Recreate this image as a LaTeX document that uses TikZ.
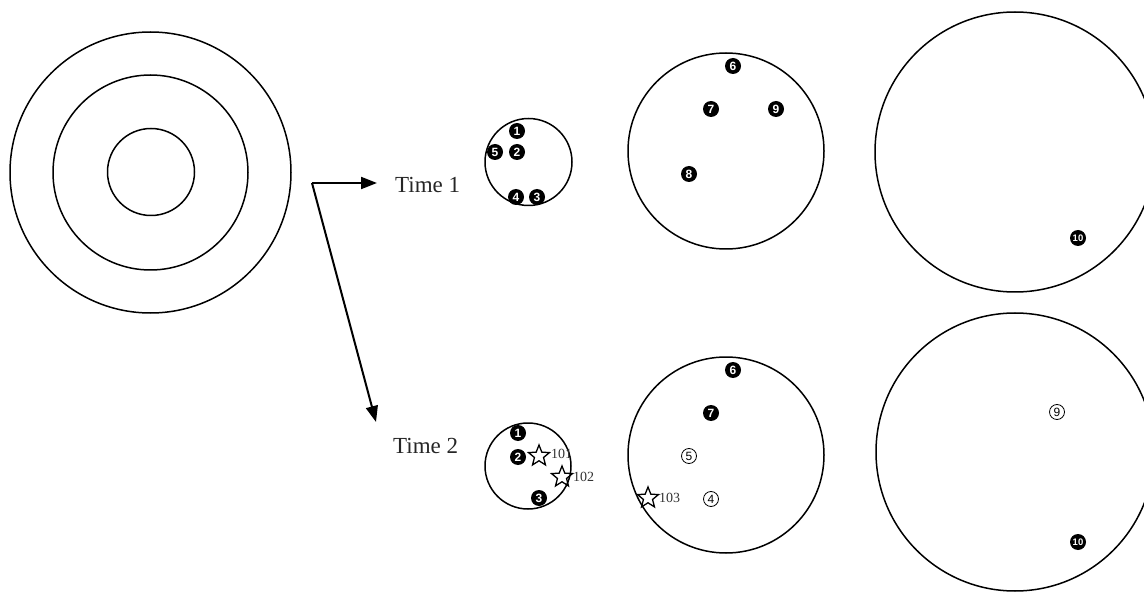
\documentclass[tikz,border=0pt]{standalone}
\usepackage{fontspec}
\setmainfont{Liberation Serif}
\newfontfamily\numfont{Liberation Sans}
\usetikzlibrary{shapes.geometric,arrows.meta}
\begin{document}
\begin{tikzpicture}[x=1pt,y=-1pt,
  ring/.style={circle,draw=black,line width=1.5pt,inner sep=0pt},
  dnum/.style={circle,fill=black,text=white,inner sep=0pt,minimum size=16pt,
    font=\numfont\bfseries\fontsize{12}{12}\selectfont},
  dnumten/.style={dnum,font=\numfont\bfseries\fontsize{9.5}{9.5}\selectfont},
  onum/.style={circle,draw=black,line width=0.8pt,inner sep=0pt,minimum size=15pt,
    font=\numfont\fontsize{12}{12}\selectfont},
  newstar/.style={star,star points=5,star point ratio=2.3,draw=black,line width=1.3pt,
    inner sep=0pt,minimum size=22pt},
  slabel/.style={anchor=base west,inner sep=0pt,font=\fontsize{14}{14}\selectfont,text=black!80},
  timelabel/.style={anchor=base west,inner sep=0pt,font=\fontsize{23}{23}\selectfont,text=black!85},
  arr/.style={line width=2pt,-{Triangle[length=16pt,width=12pt]}}
]
\useasboundingbox (0,0) rectangle (1144,596);
\clip (0,0) rectangle (1144,596);
% concentric circles
\node[ring,minimum size=281pt] (outer) at (150.5,172.5) {};
\node[ring,minimum size=195pt] (middle) at (150.5,172.5) {};
\node[ring,minimum size=87pt] (inner) at (151,172) {};
% arrows
\coordinate (split) at (312,183);
\coordinate (end1) at (377,183);
\coordinate (end2) at (376,422);
\draw[arr] (split) -- (end1);
\draw[arr] (split) -- (end2);
% labels
\node[timelabel] (t1) at (395,193) {Time 1};
\node[timelabel] (t2) at (393,453) {Time 2};
% ---- Time 1 ----
\node[ring,minimum size=87pt] (s1) at (528.5,162) {};
\node[dnum] (a1) at (517,131) {1};
\node[dnum] (a5) at (495,152) {5};
\node[dnum] (a2) at (517,152) {2};
\node[dnum] (a4) at (516,197) {4};
\node[dnum] (a3) at (537,197) {3};
\node[ring,minimum size=196pt] (m1) at (726,151) {};
\node[dnum] (b6) at (733,66) {6};
\node[dnum] (b7) at (711,109) {7};
\node[dnum] (b9) at (776,109) {9};
\node[dnum] (b8) at (689,174) {8};
\node[ring,minimum size=280pt] (r1) at (1015,152) {};
\node[dnumten] (c10) at (1078,238) {10};
% ---- Time 2 ----
\node[ring,minimum size=86pt] (s2) at (528,466) {};
\node[dnum] (d1) at (518,433) {1};
\node[dnum] (d2) at (518,457) {2};
\node[dnum] (d3) at (539,498) {3};
\node[newstar] (st101) at (539,456) {};
\node[slabel] (l101) at (551,458) {101};
\node[newstar] (st102) at (562,477) {};
\node[slabel] (l102) at (573,481) {102};
\node[ring,minimum size=196pt] (m2) at (726,455) {};
\node[dnum] (e6) at (733,370) {6};
\node[dnum] (e7) at (711,413) {7};
\node[onum] (e5) at (689,456) {5};
\node[onum] (e4) at (711,499) {4};
\node[newstar] (st103) at (648,498) {};
\node[slabel] (l103) at (659,502) {103};
\node[ring,minimum size=278pt] (r2) at (1015,452) {};
\node[onum] (f9) at (1057,412) {9};
\node[dnumten] (f10) at (1078,542) {10};
\end{tikzpicture}
\end{document}
